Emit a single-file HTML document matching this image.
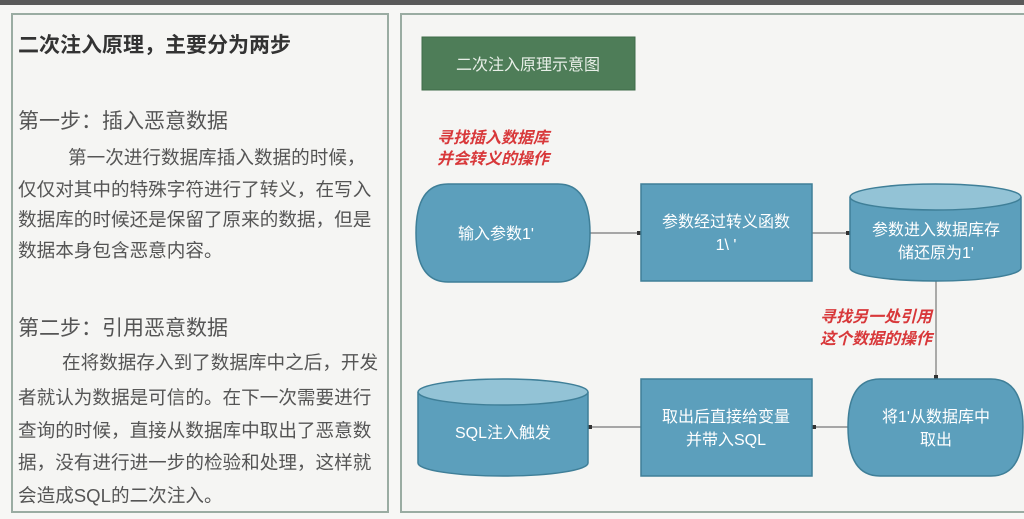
<!DOCTYPE html>
<html><head><meta charset="utf-8"><style>
body{margin:0;width:1024px;height:519px;background:#f7f7f5;position:relative;overflow:hidden;font-family:"Liberation Sans","Noto Sans CJK SC",sans-serif}
.bar{position:absolute;left:0;top:0;width:1024px;height:5px;background:#5a5a5a}
.panel{position:absolute;border:2px solid #9aaca2;background:#f5f5f3;box-sizing:border-box}
.t{position:absolute;white-space:nowrap;color:#555}
</style></head><body>
<div class="bar"></div>
<div class="panel" style="left:11px;top:13px;width:378px;height:500px"></div>
<div class="panel" style="left:400px;top:13px;width:630px;height:500px"></div>
<div class="t" style="left:18px;top:29px;font-size:21px;font-weight:bold;color:#333">二次注入原理，主要分为两步</div>
<div class="t" style="left:18px;top:105px;font-size:21px">第一步：插入恶意数据</div>
<div class="t" style="left:68px;top:143px;font-size:18.6px">第一次进行数据库插入数据的时候，</div>
<div class="t" style="left:18px;top:175px;font-size:18.6px">仅仅对其中的特殊字符进行了转义，在写入</div>
<div class="t" style="left:18px;top:205px;font-size:18.6px">数据库的时候还是保留了原来的数据，但是</div>
<div class="t" style="left:18px;top:236px;font-size:18.6px">数据本身包含恶意内容。</div>
<div class="t" style="left:18px;top:312px;font-size:21px">第二步：引用恶意数据</div>
<div class="t" style="left:62px;top:348px;font-size:18.6px">在将数据存入到了数据库中之后，开发</div>
<div class="t" style="left:18px;top:383px;font-size:18.6px">者就认为数据是可信的。在下一次需要进行</div>
<div class="t" style="left:18px;top:416px;font-size:18.6px">查询的时候，直接从数据库中取出了恶意数</div>
<div class="t" style="left:18px;top:448px;font-size:18.6px">据，没有进行进一步的检验和处理，这样就</div>
<div class="t" style="left:18px;top:481px;font-size:18.6px">会造成SQL的二次注入。</div>

<svg width="1024" height="519" style="position:absolute;left:0;top:0" font-family="Liberation Sans, Noto Sans CJK SC, sans-serif">
<rect x="422" y="37" width="213" height="53" fill="#4e7d58" stroke="#3f6a48"/>
<text x="528" y="70" font-size="16" fill="#e8efe8" text-anchor="middle">二次注入原理示意图</text>
<g fill="#d8383a" font-size="16" font-weight="bold" font-style="italic">
<text x="437" y="143">寻找插入数据库</text><text x="437" y="164">并会转义的操作</text>
<text x="820" y="322">寻找另一处引用</text><text x="820" y="344">这个数据的操作</text></g>
<g stroke="#777" stroke-width="1.2" fill="none">
<line x1="588" y1="233" x2="641" y2="233"/><line x1="812" y1="233" x2="850" y2="233"/>
<line x1="936" y1="280" x2="936" y2="379"/>
<line x1="588" y1="427" x2="641" y2="427"/><line x1="812" y1="427" x2="850" y2="427"/></g>
<g fill="#333"><rect x="637" y="231" width="4" height="4"/><rect x="846" y="231" width="4" height="4"/><rect x="934" y="375" width="4" height="4"/><rect x="588" y="425" width="4" height="4"/><rect x="812" y="425" width="4" height="4"/></g>
<g fill="#5c9fbc" stroke="#3f7f98" stroke-width="1.5">
<path d="M448 184 H558 Q590 184 590 233 Q590 282 558 282 H448 Q416 282 416 233 Q416 184 448 184Z"/>
<rect x="641" y="184" width="171" height="97"/>
<path d="M850 197 V268 A85.5 13 0 0 0 1021 268 V197"/>
<ellipse cx="935.5" cy="197" rx="85.5" ry="13" fill="#93c3d6"/>
<path d="M418 392 V463 A85 13 0 0 0 588 463 V392"/>
<ellipse cx="503" cy="392" rx="85" ry="13" fill="#93c3d6"/>
<rect x="641" y="379" width="171" height="97"/>
<path d="M880 379 H991 Q1023 379 1023 427 Q1023 476 991 476 H880 Q848 476 848 427 Q848 379 880 379Z"/>
</g>
<g fill="#fff" font-size="16" text-anchor="middle">
<text x="496" y="239">输入参数1'</text>
<text x="726" y="227">参数经过转义函数</text><text x="726" y="250">1\ '</text>
<text x="936" y="235">参数进入数据库存</text><text x="936" y="258">储还原为1'</text>
<text x="503" y="438">SQL注入触发</text>
<text x="726" y="422">取出后直接给变量</text><text x="726" y="445">并带入SQL</text>
<text x="936" y="422">将1'从数据库中</text><text x="936" y="445">取出</text>
</g>
</svg>
</body></html>
